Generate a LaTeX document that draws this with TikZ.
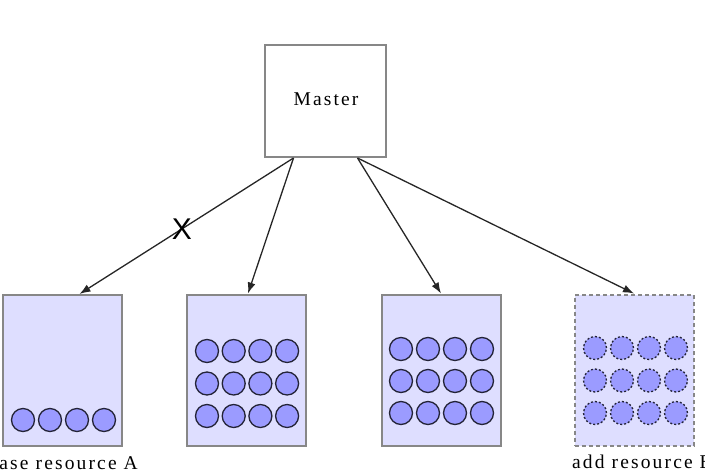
\documentclass[tikz,border=0pt]{standalone}
\usepackage{fontspec}
\setmainfont{Liberation Serif}[LetterSpace=11]
\newfontfamily\xfont{Liberation Sans}
\usepackage{tikz}
\usetikzlibrary{arrows.meta}
\definecolor{boxfill}{RGB}{222,222,255}
\definecolor{boxline}{RGB}{135,135,135}
\definecolor{dotfill}{RGB}{155,155,255}
\definecolor{dotline}{RGB}{35,35,55}

\tikzset{
  pool/.style={draw=boxline, line width=2pt, fill=boxfill, minimum width=119pt, minimum height=151pt, inner sep=0pt},
  newpool/.style={pool, dash pattern=on 4pt off 3pt},
  dot/.style={circle, draw=dotline, line width=1.3pt, fill=dotfill, minimum size=23pt, inner sep=0pt},
  newdot/.style={dot, dash pattern=on 2pt off 2pt},
  arr/.style={-{Latex[length=11pt,width=8pt]}, line width=1.3pt, draw=black!85},
  lbl/.style={font=\fontsize{19.5}{22}\selectfont, inner sep=0pt}
}

\begin{document}
\begin{tikzpicture}[x=1pt,y=-1pt]
  \clip (0,0) rectangle (705,475);
  % master
  \node[draw=boxline, line width=2pt, fill=white, minimum width=121pt, minimum height=112pt, inner sep=0pt] (master) at (325.5,101) {};
  \node[lbl] (mastertxt) at (326,99) {Master};
  % resource pools
  \node[pool] (res1) at (62.5,370.5) {};
  \node[pool] (res2) at (246.5,370) {};
  \node[pool] (res3) at (441,370) {};
  \node[newpool] (res4) at (634,370) {};
  \foreach \c in {0,1,2,3}
    \node[dot] (a\c) at (23+27*\c,420) {};
  \foreach \r in {0,1,2}
    \foreach \c in {0,1,2,3} {
      \node[dot] (b\r\c) at (207+26.7*\c,351+32.5*\r) {};
      \node[dot] (c\r\c) at (401+27*\c,349+32*\r) {};
      \node[newdot] (d\r\c) at (595+27*\c,348+32.5*\r) {};
    }
  % connectors
  \draw[arr] ([xshift=-32pt]master.south) -- ([xshift=17pt]res1.north);
  \draw[arr] ([xshift=-32pt]master.south) -- ([xshift=1.5pt]res2.north);
  \draw[arr] ([xshift=32pt]master.south) -- (res3.north);
  \draw[arr] ([xshift=32pt]master.south) -- (res4.north);
  \node[font=\xfont\fontsize{30}{32}\selectfont, inner sep=0pt] (xmark) at (182,229) {X};
  % labels
  \node[lbl, anchor=base east] (lblA) at (138,469) {release resource A};
  \node[lbl, anchor=base west] (lblB) at (572,468) {add resource B};
\end{tikzpicture}
\end{document}
